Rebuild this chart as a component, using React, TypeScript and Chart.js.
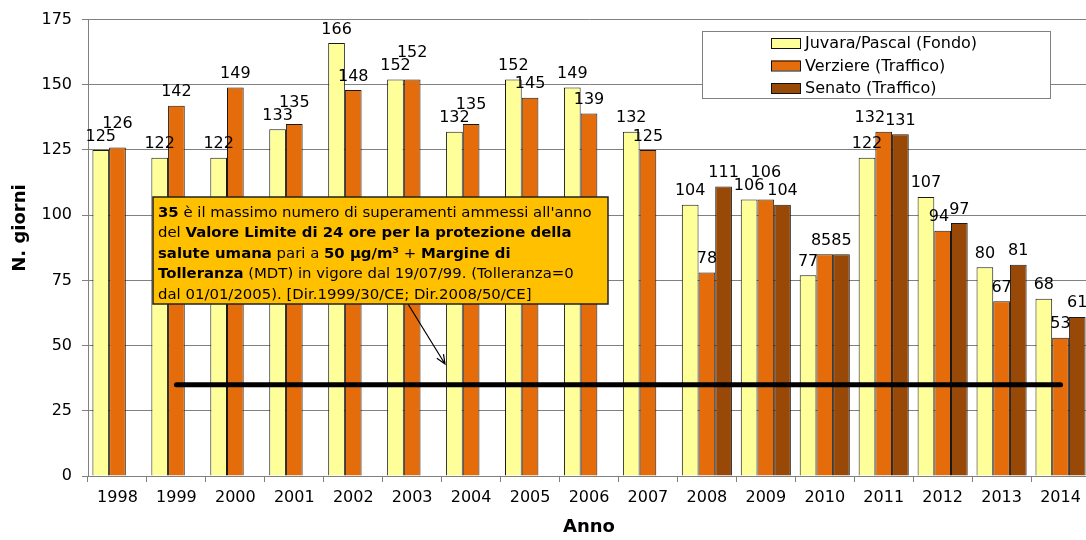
import React, { useEffect, useRef } from "react";
import { Chart, registerables } from "chart.js";

Chart.register(...registerables);

const years = ["1998", "1999", "2000", "2001", "2002", "2003", "2004", "2005", "2006", "2007", "2008", "2009", "2010", "2011", "2012", "2013", "2014"];
const juvara = [125, 122, 122, 133, 166, 152, 132, 152, 149, 132, 104, 106, 77, 122, 107, 80, 68];
const verziere = [126, 142, 149, 135, 148, 152, 135, 145, 139, 125, 78, 106, 85, 132, 94, 67, 53];
const senato = [null, null, null, null, null, null, null, null, null, null, 111, 104, 85, 131, 97, 81, 61];
const limit = [null, 35, 35, 35, 35, 35, 35, 35, 35, 35, 35, 35, 35, 35, 35, 35, 35];
const seriesNames = ["Juvara/Pascal (Fondo)", "Verziere (Traffico)", "Senato (Traffico)"];
const seriesColors = ["#FFFF99", "#E46C0A", "#984807"];
const yMin = 0;
const yMax = 175;
const yStep = 25;
const yTitle = "N. giorni";
const xTitle = "Anno";
const noteLines: [string, boolean][][] = [
  [["35", true], [" è il massimo numero di superamenti ammessi all'anno", false]],
  [["del ", false], ["Valore Limite di 24 ore per la protezione della", true]],
  [["salute umana", true], [" pari a ", false], ["50 μg/m³", true], [" + ", false], ["Margine di", true]],
  [["Tolleranza", true], [" (MDT) in vigore dal 19/07/99. (Tolleranza=0", false]],
  [["dal 01/01/2005). [Dir.1999/30/CE; Dir.2008/50/CE]", false]],
];

const FONT = '"DejaVu Sans", Verdana, sans-serif';

type Lbl = { x: number; y: number; w: number; t: string };

const collide = (a: Lbl, b: Lbl) =>
  Math.abs(a.y - b.y) < 14 && Math.abs(a.x - b.x) < (a.w + b.w) / 2;

const valueLabels = {
  id: "valueLabels",
  afterDatasetsDraw(chart: any) {
    const ctx = chart.ctx;
    ctx.save();
    ctx.font = `16px ${FONT}`;
    ctx.fillStyle = "#000";
    ctx.textAlign = "center";
    ctx.textBaseline = "alphabetic";
    const n = chart.data.labels.length;
    const xs = chart.scales.x;
    const placed: Lbl[] = [];
    for (let j = 0; j < n; j++) {
      const items: Lbl[] = [];
      chart.data.datasets.forEach((ds: any, i: number) => {
        if (ds.type === "line") return;
        const v = ds.data[j];
        if (v == null) return;
        const el = chart.getDatasetMeta(i).data[j];
        const t = String(v);
        items.push({ x: el.x, y: el.y - 9.5, w: ctx.measureText(t).width, t });
      });
      const catLeft = xs.getPixelForValue(j) - (xs.width / n) / 2;
      for (let i = 1; i < items.length; i++) {
        const l = items[i - 1], r = items[i];
        if (Math.abs(l.y - r.y) >= 12) continue;
        const ov = (l.x + l.w / 2) - (r.x - r.w / 2);
        if (ov <= 3) continue;
        const cand: Lbl = { ...l, x: l.x - ov };
        const others = placed.concat(items.slice(0, i - 1));
        const ok = cand.x - cand.w / 2 >= catLeft - 14 && !others.some((o) => collide(o, cand));
        if (ok) l.x = cand.x;
        else r.y = l.y - 13;
      }
      items.forEach((it) => {
        ctx.fillText(it.t, it.x, it.y);
        placed.push(it);
      });
    }
    ctx.restore();
  },
};

const noteBox = {
  id: "noteBox",
  afterDatasetsDraw(chart: any) {
    const ctx = chart.ctx;
    const bx = 153, by = 197, bw = 455, bh = 107;
    ctx.save();
    const x1 = 408, y1 = 304, x2 = 445, y2 = 364;
    ctx.strokeStyle = "#000";
    ctx.lineWidth = 1.2;
    ctx.beginPath();
    ctx.moveTo(x1, y1);
    ctx.lineTo(x2, y2);
    const ang = Math.atan2(y2 - y1, x2 - x1);
    const hl = 10;
    ctx.moveTo(x2 - hl * Math.cos(ang - 0.4), y2 - hl * Math.sin(ang - 0.4));
    ctx.lineTo(x2, y2);
    ctx.lineTo(x2 - hl * Math.cos(ang + 0.4), y2 - hl * Math.sin(ang + 0.4));
    ctx.stroke();
    ctx.fillStyle = "#FFC000";
    ctx.fillRect(bx, by, bw, bh);
    ctx.lineWidth = 1.5;
    ctx.strokeStyle = "#222";
    ctx.strokeRect(bx, by, bw, bh);
    const target = 434;
    const measure = (line: [string, boolean][], s: number) => {
      let w = 0;
      line.forEach(([t, b]) => {
        ctx.font = `${b ? "bold " : ""}${s}px ${FONT}`;
        w += ctx.measureText(t).width;
      });
      return w;
    };
    const size = 15 * target / measure(noteLines[0], 15);
    ctx.fillStyle = "#000";
    ctx.textBaseline = "middle";
    ctx.textAlign = "left";
    noteLines.forEach((line, li) => {
      let x = bx + 5;
      const y = by + 16 + li * 20.5;
      line.forEach(([t, b]) => {
        ctx.font = `${b ? "bold " : ""}${size}px ${FONT}`;
        ctx.fillText(t, x, y);
        x += ctx.measureText(t).width;
      });
    });
    ctx.restore();
  },
};

const legendBox = {
  id: "legendBox",
  afterDraw(chart: any) {
    const ctx = chart.ctx;
    ctx.save();
    const lx = 702, ly = 31, lw = 348, lh = 67;
    ctx.fillStyle = "#fff";
    ctx.fillRect(lx, ly, lw, lh);
    ctx.strokeStyle = "#808080";
    ctx.lineWidth = 1;
    ctx.strokeRect(lx + 0.5, ly + 0.5, lw, lh);
    ctx.font = `16px ${FONT}`;
    ctx.textBaseline = "middle";
    ctx.textAlign = "left";
    const bars = chart.data.datasets.filter((d: any) => d.type !== "line");
    bars.forEach((ds: any, i: number) => {
      const cy = 43 + i * 22.5;
      ctx.fillStyle = ds.backgroundColor;
      ctx.fillRect(771, cy - 5, 29, 10);
      ctx.strokeStyle = "#111";
      ctx.strokeRect(771.5, cy - 4.5, 29, 10);
      ctx.fillStyle = "#000";
      ctx.fillText(ds.label, 805, cy + 1);
    });
    ctx.restore();
  },
};

const axisTitles = {
  id: "axisTitles",
  afterDraw(chart: any) {
    const ctx = chart.ctx;
    const a = chart.chartArea;
    ctx.save();
    ctx.fillStyle = "#000";
    ctx.font = `bold 18px ${FONT}`;
    ctx.textAlign = "center";
    ctx.textBaseline = "middle";
    ctx.fillText(xTitle, (a.left + a.right) / 2, 527);
    ctx.translate(20, 228);
    ctx.rotate(-Math.PI / 2);
    ctx.fillText(yTitle, 0, 0);
    ctx.restore();
  },
};

export default function App() {
  const ref = useRef<HTMLCanvasElement>(null);
  useEffect(() => {
    document.documentElement.style.overflow = "hidden";
    document.body.style.overflow = "hidden";
    const canvas = ref.current!;
    const chart = new Chart(canvas, {
      type: "bar",
      data: {
        labels: years,
        datasets: [
          {
            type: "line",
            label: "limit",
            data: limit as any,
            borderColor: "#000",
            borderWidth: 5,
            borderCapStyle: "round",
            pointRadius: 0,
            order: 0,
          } as any,
          ...[juvara, verziere, senato].map((d, i) => ({
            type: "bar",
            label: seriesNames[i],
            data: d as any,
            backgroundColor: seriesColors[i],
            borderColor: "#1a1a1a",
            borderWidth: 1,
            categoryPercentage: 0.85,
            barPercentage: 1,
            order: 1,
          })),
        ],
      },
      options: {
        responsive: false,
        animation: false,
        devicePixelRatio: 1,
        layout: { padding: { top: 17, right: 4, left: 0, bottom: 0 } },
        plugins: { legend: { display: false }, tooltip: { enabled: false } },
        scales: {
          x: {
            grid: { display: true, drawOnChartArea: false, drawTicks: true, tickLength: 6, color: "#808080", offset: true },
            border: { color: "#808080" },
            ticks: { font: { family: FONT, size: 16 }, color: "#000", padding: 6, maxRotation: 0, autoSkip: false },
            afterFit: (s: any) => { s.height = 64; },
          },
          y: {
            min: yMin,
            max: yMax,
            ticks: { stepSize: yStep, font: { family: FONT, size: 16 }, color: "#000", padding: 10 },
            grid: { color: "#808080", tickLength: 6 },
            border: { color: "#808080" },
            afterFit: (s: any) => { s.width = 88; },
          },
        },
      } as any,
      plugins: [valueLabels, noteBox, legendBox, axisTitles],
    });
    return () => chart.destroy();
  }, []);
  return (
    <div style={{ position: "fixed", left: 0, top: 0, width: 1086, height: 540, overflow: "hidden", background: "#fff" }}>
      <canvas ref={ref} width={1094} height={540} style={{ display: "block" }} />
    </div>
  );
}
